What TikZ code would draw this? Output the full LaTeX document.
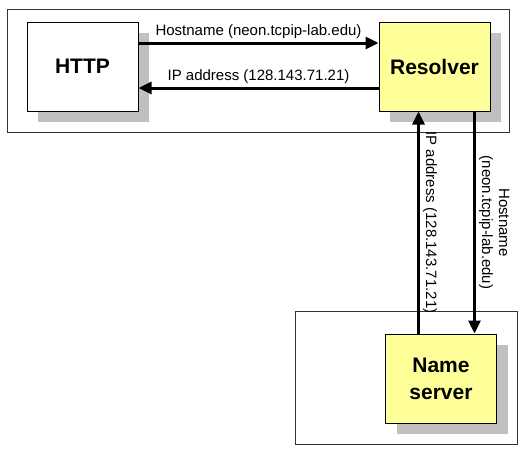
\documentclass[tikz,border=0pt]{standalone}
\usepackage{fontspec}
\setmainfont{Liberation Sans}
\usetikzlibrary{positioning,calc,shadows,arrows.meta}
\definecolor{boxyellow}{RGB}{255,255,153}
\definecolor{shadowgray}{RGB}{192,192,192}
\tikzstyle{frame} = [draw=black!80, rectangle, line width=0.8pt]
\tikzstyle{block} = [draw, rectangle, line width=1pt, minimum width=111pt, minimum height=89pt, align=center, font=\fontsize{21}{27}\selectfont\bfseries, drop shadow={shadow xshift=11pt,shadow yshift=-11pt,fill=shadowgray,opacity=1}]
\tikzstyle{to} = [-{Triangle[length=13pt,width=12pt]}, line width=3pt]
\tikzstyle{lbl} = [font=\fontsize{15}{17}\selectfont, inner sep=3pt]
\begin{document}
\begin{tikzpicture}[x=1pt, y=-1pt, node distance=240pt]
\useasboundingbox (0,0) rectangle (531,456);
\node[frame, minimum width=502pt, minimum height=123pt] (top) at (258,70.5) {};
\node[frame, minimum width=222pt, minimum height=133pt] (bottom) at (406,377.5) {};
\node[block, fill=white] (http) at (82.5,66.5) {HTTP};
\node[block, fill=boxyellow, right=of http] (res) {Resolver};
\node[block, fill=boxyellow, below=222pt of res, xshift=6.5pt] (ns) {Name\\server};
\draw[to] ([yshift=23.5pt]http.east) -- node[lbl,above] {Hostname (neon.tcpip-lab.edu)} ([yshift=23.5pt]http.east -| res.west);
\draw[to] ([yshift=-21.5pt]res.west) -- node[lbl,above] {IP address (128.143.71.21)} ([yshift=-21.5pt]res.west -| http.east);
\draw[to] ([xshift=-22.5pt]ns.north) -- node[lbl,midway,rotate=-90,anchor=south] {IP address (128.143.71.21)} ([xshift=-22.5pt]ns.north |- res.south);
\draw[to] ([xshift=40pt]res.south) -- node[lbl,midway,rotate=-90,anchor=south,align=center] {Hostname\\(neon.tcpip-lab.edu)} ([xshift=40pt]res.south |- ns.north);
\end{tikzpicture}
\end{document}
